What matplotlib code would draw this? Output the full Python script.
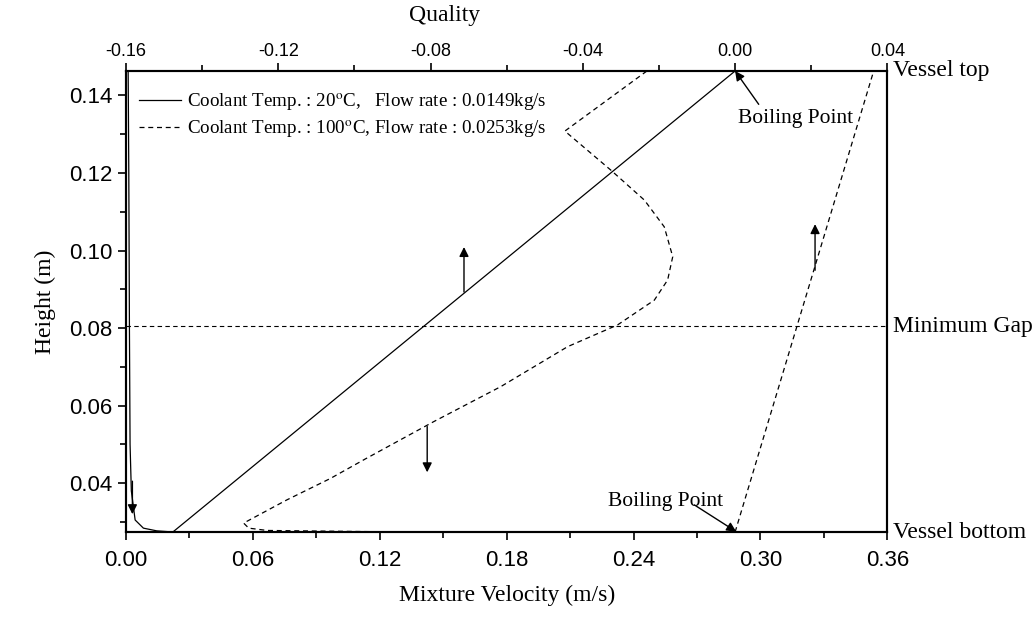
import numpy as np
import matplotlib
matplotlib.use('Agg')
import matplotlib.pyplot as plt
from matplotlib.ticker import MultipleLocator, FormatStrFormatter

plt.rcParams['mathtext.fontset'] = 'stix'

SERIF = 'Liberation Serif'
SANS = 'Liberation Sans'

# ── data ─────────────────────────────────────────────────────
# 20 C coolant: mixture velocity (bottom axis)
vel20_v = [0.0010, 0.0013, 0.0016, 0.0019, 0.0025, 0.0043, 0.0082, 0.0145, 0.0223]
vel20_h = [0.1463, 0.1200, 0.0800, 0.0500, 0.0380, 0.0305, 0.0284, 0.0277, 0.0274]
# 20 C coolant: quality (top axis)
qual20_q = [-0.1477, 0.0]
qual20_h = [0.0274, 0.1463]

# 100 C coolant: mixture velocity (bottom axis)
vel100_v = [0.115, 0.0667, 0.0580, 0.0556, 0.0761, 0.0966, 0.1130, 0.1298, 0.1456,
            0.1772, 0.2088, 0.2324, 0.2498, 0.2561, 0.2585, 0.2545, 0.2451, 0.2293,
            0.2075, 0.2463]
vel100_h = [0.0275, 0.0278, 0.0284, 0.0297, 0.0357, 0.0412, 0.0462, 0.0512, 0.0559,
            0.0649, 0.0752, 0.0808, 0.0872, 0.0924, 0.0984, 0.1061, 0.1130, 0.1207,
            0.1308, 0.1463]
# 100 C coolant: quality (top axis)
qual100_q = [0.0, 0.0364]
qual100_h = [0.0274, 0.1463]

H_BOTTOM, H_TOP, H_GAP = 0.0274, 0.1463, 0.0805

labels = ['Coolant Temp. : 20$^{\\mathrm{o}}$C,   Flow rate : 0.0149kg/s',
          'Coolant Temp. : 100$^{\\mathrm{o}}$C, Flow rate : 0.0253kg/s']

# ── figure ───────────────────────────────────────────────────
fig = plt.figure(figsize=(10.34, 6.21), dpi=100)
ax = fig.add_axes([0.1219, 0.1433, 0.7363, 0.7424])
ax2 = ax.twiny()

DASH = (0, (4, 3))

l1, = ax.plot(vel20_v, vel20_h, color='k', lw=0.9)
l2, = ax.plot(vel100_v, vel100_h, color='k', lw=0.9, ls=DASH)
ax2.plot(qual20_q, qual20_h, color='k', lw=0.9)
ax2.plot(qual100_q, qual100_h, color='k', lw=0.9, ls=DASH)

# minimum gap line
ax.axhline(H_GAP, color='k', lw=0.8, ls=DASH)

ax.set_xlim(0, 0.36)
ax.set_ylim(H_BOTTOM, H_TOP)
ax2.set_xlim(-0.16, 0.04)

ax.xaxis.set_major_locator(MultipleLocator(0.06))
ax.xaxis.set_minor_locator(MultipleLocator(0.03))
ax.yaxis.set_major_locator(MultipleLocator(0.02))
ax.yaxis.set_minor_locator(MultipleLocator(0.01))
ax2.xaxis.set_major_locator(MultipleLocator(0.04))
ax2.xaxis.set_minor_locator(MultipleLocator(0.02))
ax.xaxis.set_major_formatter(FormatStrFormatter('%.2f'))
ax.yaxis.set_major_formatter(FormatStrFormatter('%.2f'))
ax2.xaxis.set_major_formatter(FormatStrFormatter('%.2f'))

for a in (ax, ax2):
    for sp in a.spines.values():
        sp.set_linewidth(1.5)
ax.tick_params(which='major', direction='out', length=6, width=1.2, labelsize=16)
ax.tick_params(which='minor', direction='out', length=4, width=1.2)
ax.tick_params(axis='x', which='major', pad=7)
ax.tick_params(axis='y', which='both', right=False)
ax2.tick_params(which='major', direction='out', length=6, width=1.2, labelsize=13, pad=2)
ax2.tick_params(which='minor', direction='out', length=4, width=1.2)
for t in ax.get_xticklabels() + ax.get_yticklabels() + ax2.get_xticklabels():
    t.set_family(SANS)

ax.set_xlabel('Mixture Velocity (m/s)', family=SERIF, fontsize=17, labelpad=10)
ax.set_ylabel('Height (m)', family=SERIF, fontsize=17, labelpad=10)
fig.text(445 / 1034, 1 - 16 / 621, 'Quality', family=SERIF, fontsize=17,
         ha='center', va='center')

leg = ax.legend([l1, l2], labels, loc='upper left', frameon=False,
                prop={'family': SERIF, 'size': 13.7}, handlelength=2.2,
                handletextpad=0.3, labelspacing=0.3,
                borderaxespad=0.3, bbox_to_anchor=(0.0, 0.985))

# right side labels
tr = ax.get_yaxis_transform()
for h, s in [(H_TOP, 'Vessel top'), (H_GAP, 'Minimum Gap'), (H_BOTTOM, 'Vessel bottom')]:
    ax.text(1.007, h, s, transform=tr, family=SERIF, fontsize=17, va='center', ha='left')

# boiling point annotations
arr = dict(arrowstyle='-|>', color='k', lw=1.0, mutation_scale=14, shrinkA=0, shrinkB=0)
ax2.annotate('', xy=(0.0, H_TOP), xytext=(0.0062, 0.1377), arrowprops=arr)
ax2.text(0.0159, 0.1341, 'Boiling Point', family=SERIF, fontsize=15.5, ha='center', va='center')
ax.annotate('', xy=(0.2885, 0.0275), xytext=(0.2687, 0.0344), arrowprops=arr)
ax.text(0.2549, 0.0352, 'Boiling Point', family=SERIF, fontsize=15.5, ha='center', va='center')

# axis indicator arrows
ax.annotate('', xy=(0.1598, 0.1009), xytext=(0.1598, 0.0893), arrowprops=arr)
ax.annotate('', xy=(0.1424, 0.0428), xytext=(0.1424, 0.0546), arrowprops=arr)
ax.annotate('', xy=(0.3258, 0.1068), xytext=(0.3258, 0.0949), arrowprops=arr)
ax.annotate('', xy=(0.0030, 0.0320), xytext=(0.0030, 0.0405), arrowprops=arr)

fig.savefig('out.png', dpi=100)
